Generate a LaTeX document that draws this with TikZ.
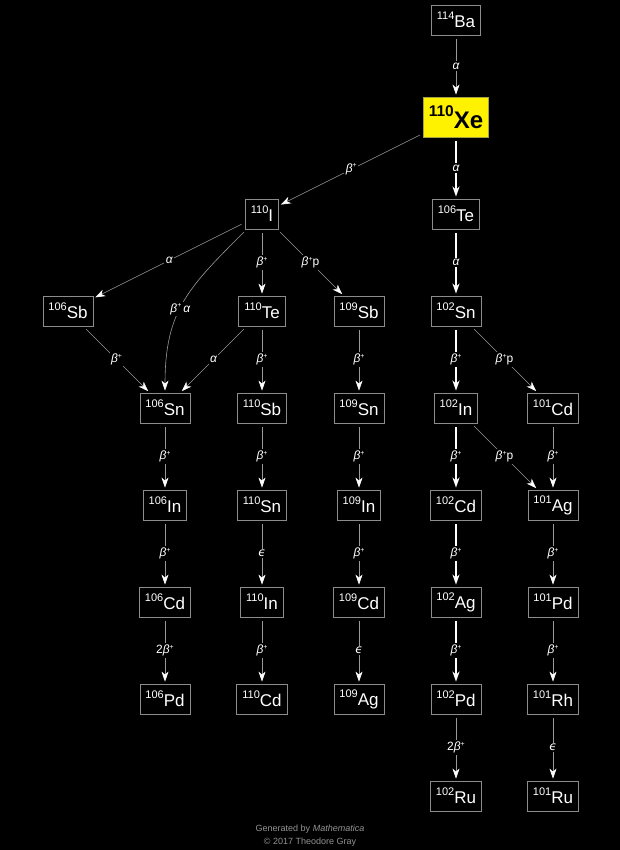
\documentclass[tikz,border=0pt]{standalone}
\usepackage{fontspec}
\setmainfont{Liberation Sans}
\newfontfamily\greekfont{DejaVu Sans}
\usetikzlibrary{arrows.meta}

% isotope label: mass number raised in front of the symbol
\newcommand{\iso}[2]{\raisebox{8pt}{\fontsize{11}{11}\selectfont #1}#2}
\newcommand{\bplus}{{\itshape β}\raisebox{4.5pt}{\fontsize{7}{7}\selectfont +}}
\newcommand{\alp}{{\itshape α}}
\newcommand{\eps}{{\greekfont\itshape ϵ}}

\begin{document}
\begin{tikzpicture}[
    % boxes for the nuclides
    nuc/.style={draw=gray!90, line width=0.8pt, text=white, minimum height=30pt,
        inner xsep=5.5pt, inner ysep=0pt, font=\fontsize{17}{17}\selectfont},
    parent/.style={nuc, fill=yellow, draw=yellow!60!black, text=black,
        minimum height=40pt, inner xsep=5pt, font=\bfseries\fontsize{24}{24}\selectfont},
    % decay arrows
    decay/.style={draw=gray!80, line width=0.6pt,
        -{Stealth[white, length=10pt, width=7pt, inset=3pt]},
        shorten <=4pt, shorten >=2pt},
    chain/.style={decay, draw=white, line width=2.4pt},
    lbl/.style={midway, fill=black, text=white, inner sep=1.5pt,
        font=\fontsize{12}{12}\selectfont},
    credit/.style={text=gray!85, font=\fontsize{9}{9}\selectfont, inner sep=0pt}
]

\fill[black] (0,0) rectangle (620pt,-850pt);
\useasboundingbox (0,0) rectangle (620pt,-850pt);

\begin{scope}[shift={(68pt,-20pt)}, x=97pt, y=-97pt]
% ==========================================
% NUCLIDES
% ==========================================
\node[nuc] (Ba114) at (4,0) {\iso{114}{Ba}};
\node[parent] (Xe110) at (4,1) {\raisebox{11.5pt}{\fontsize{15.5}{15.5}\selectfont 110}Xe};

\node[nuc] (I110)  at (2,2) {\iso{110}{I}};
\node[nuc] (Te106) at (4,2) {\iso{106}{Te}};

\node[nuc] (Sb106) at (0,3) {\iso{106}{Sb}};
\node[nuc] (Te110) at (2,3) {\iso{110}{Te}};
\node[nuc] (Sb109) at (3,3) {\iso{109}{Sb}};
\node[nuc] (Sn102) at (4,3) {\iso{102}{Sn}};

\node[nuc] (Sn106) at (1,4) {\iso{106}{Sn}};
\node[nuc] (Sb110) at (2,4) {\iso{110}{Sb}};
\node[nuc] (Sn109) at (3,4) {\iso{109}{Sn}};
\node[nuc] (In102) at (4,4) {\iso{102}{In}};
\node[nuc] (Cd101) at (5,4) {\iso{101}{Cd}};

\node[nuc] (In106) at (1,5) {\iso{106}{In}};
\node[nuc] (Sn110) at (2,5) {\iso{110}{Sn}};
\node[nuc] (In109) at (3,5) {\iso{109}{In}};
\node[nuc] (Cd102) at (4,5) {\iso{102}{Cd}};
\node[nuc] (Ag101) at (5,5) {\iso{101}{Ag}};

\node[nuc] (Cd106) at (1,6) {\iso{106}{Cd}};
\node[nuc] (In110) at (2,6) {\iso{110}{In}};
\node[nuc] (Cd109) at (3,6) {\iso{109}{Cd}};
\node[nuc] (Ag102) at (4,6) {\iso{102}{Ag}};
\node[nuc] (Pd101) at (5,6) {\iso{101}{Pd}};

\node[nuc] (Pd106) at (1,7) {\iso{106}{Pd}};
\node[nuc] (Cd110) at (2,7) {\iso{110}{Cd}};
\node[nuc] (Ag109) at (3,7) {\iso{109}{Ag}};
\node[nuc] (Pd102) at (4,7) {\iso{102}{Pd}};
\node[nuc] (Rh101) at (5,7) {\iso{101}{Rh}};

\node[nuc] (Ru102) at (4,8) {\iso{102}{Ru}};
\node[nuc] (Ru101) at (5,8) {\iso{101}{Ru}};
\end{scope}

% ==========================================
% MAIN CHAIN (thick)
% ==========================================
\draw[chain] (Xe110) -- (Te106) node[lbl] {\alp};
\draw[chain] (Te106) -- (Sn102) node[lbl] {\alp};
\draw[chain] (Sn102) -- (In102) node[lbl] {\bplus};
\draw[chain] (In102) -- (Cd102) node[lbl] {\bplus};
\draw[chain] (Cd102) -- (Ag102) node[lbl] {\bplus};
\draw[chain] (Ag102) -- (Pd102) node[lbl] {\bplus};

% ==========================================
% OTHER BRANCHES
% ==========================================
\draw[decay] (Ba114) -- (Xe110) node[lbl] {\alp};
\draw[decay] (Xe110) -- (I110) node[lbl] {\bplus};
\draw[decay] (Pd102) -- (Ru102) node[lbl] {2\bplus};

% from 110I
\draw[decay] (I110) -- (Sb106) node[lbl] {\alp};
\draw[decay] (I110) to[out=225, in=90, looseness=1.15] node[lbl, pos=0.55] {\bplus\,\alp} (Sn106);
\draw[decay] (I110) -- (Te110) node[lbl] {\bplus};
\draw[decay] (I110) -- (Sb109) node[lbl] {\bplus p};

% into 106Sn
\draw[decay] (Sb106) -- (Sn106) node[lbl] {\bplus};
\draw[decay] (Te110) -- (Sn106) node[lbl] {\alp};
\draw[decay] (Sn106) -- (In106) node[lbl] {\bplus};
\draw[decay] (In106) -- (Cd106) node[lbl] {\bplus};
\draw[decay] (Cd106) -- (Pd106) node[lbl] {2\bplus};

% 110Te column
\draw[decay] (Te110) -- (Sb110) node[lbl] {\bplus};
\draw[decay] (Sb110) -- (Sn110) node[lbl] {\bplus};
\draw[decay] (Sn110) -- (In110) node[lbl] {\eps};
\draw[decay] (In110) -- (Cd110) node[lbl] {\bplus};

% 109Sb column
\draw[decay] (Sb109) -- (Sn109) node[lbl] {\bplus};
\draw[decay] (Sn109) -- (In109) node[lbl] {\bplus};
\draw[decay] (In109) -- (Cd109) node[lbl] {\bplus};
\draw[decay] (Cd109) -- (Ag109) node[lbl] {\eps};

% A = 101 column
\draw[decay] (Sn102) -- (Cd101) node[lbl] {\bplus p};
\draw[decay] (In102) -- (Ag101) node[lbl] {\bplus p};
\draw[decay] (Cd101) -- (Ag101) node[lbl] {\bplus};
\draw[decay] (Ag101) -- (Pd101) node[lbl] {\bplus};
\draw[decay] (Pd101) -- (Rh101) node[lbl] {\bplus};
\draw[decay] (Rh101) -- (Ru101) node[lbl] {\eps};

% credit line
\node[credit] (gen) at (310pt,-829pt) {Generated by \textit{Mathematica}};
\node[credit] (copy) at (310pt,-842pt) {© 2017 Theodore Gray};

\end{tikzpicture}
\end{document}
